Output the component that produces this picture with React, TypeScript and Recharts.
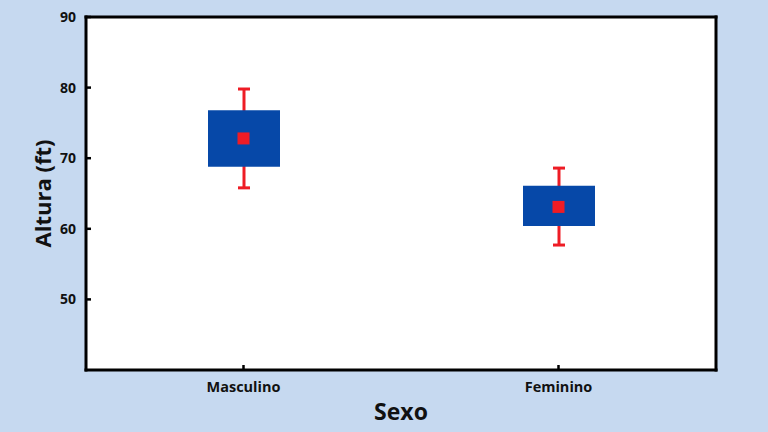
import React from 'react';
import { ComposedChart, Bar, Scatter, XAxis, YAxis, CartesianGrid } from 'recharts';

const categories = ['Masculino', 'Feminino'];
const boxLow = [68.8, 60.4];
const boxHigh = [76.8, 66.1];
const whiskerLow = [65.8, 57.7];
const whiskerHigh = [79.8, 68.6];
const means = [72.8, 63.1];
const yTicks = [50, 60, 70, 80, 90];

const data = categories.map((c, i) => ({
  cat: c,
  box: [boxLow[i], boxHigh[i]],
  whisker: [whiskerLow[i], whiskerHigh[i]],
  mean: means[i],
}));

const BLUE = '#0648a8';
const RED = '#ee1c25';
const BG = '#c6d9f0';
const FONT = '"Open Sans", sans-serif';

const WhiskerShape = (props: any) => {
  const { x, y, width, height } = props;
  const cx = x + width / 2;
  const top = Math.min(y, y + height);
  const bot = Math.max(y, y + height);
  return (
    <g>
      <line x1={cx} x2={cx} y1={top} y2={bot} stroke={RED} strokeWidth={3} />
      <line x1={cx - 6} x2={cx + 6} y1={top} y2={top} stroke={RED} strokeWidth={3} />
      <line x1={cx - 6} x2={cx + 6} y1={bot} y2={bot} stroke={RED} strokeWidth={3} />
    </g>
  );
};

const MeanShape = (props: any) => {
  const { cx, cy } = props;
  return <rect x={cx - 6} y={cy - 6} width={12} height={12} fill={RED} />;
};

const YTick = (props: any) => {
  const { y, payload } = props;
  return (
    <g>
      <line x1={86} x2={91} y1={y} y2={y} stroke="#000" strokeWidth={2.5} />
      <text x={76} y={y} dy="0.355em" textAnchor="end" fontFamily={FONT} fontWeight={700} fontSize={14} fill="#111">
        {payload.value}
      </text>
    </g>
  );
};

const XTick = (props: any) => {
  const { x, payload } = props;
  return (
    <g>
      <line x1={x} x2={x} y1={370} y2={365} stroke="#000" strokeWidth={2.5} />
      <text x={x} y={392} textAnchor="middle" fontFamily={FONT} fontWeight={700} fontSize={14.5} fill="#111">
        {payload.value}
      </text>
    </g>
  );
};

const axisLine = { stroke: '#000', strokeWidth: 3, strokeLinecap: 'square' as const };

export default function App() {
  return (
    <div style={{ position: 'absolute', left: 0, top: 0, width: 768, height: 432, background: BG }}>
      <ComposedChart
        width={768}
        height={432}
        data={data}
        margin={{ top: 16, right: 51, bottom: 0, left: 0 }}
      >
        <CartesianGrid fill="#ffffff" horizontal={false} vertical={false} />
        <XAxis
          xAxisId="top"
          orientation="top"
          dataKey="cat"
          height={1}
          tick={false}
          tickLine={false}
          axisLine={axisLine}
        />
        <XAxis
          xAxisId="bottom"
          dataKey="cat"
          height={62}
          tickLine={false}
          tickSize={0}
          tickMargin={0}
          axisLine={axisLine}
          tick={<XTick />}
          interval={0}
          label={{
            value: 'Sexo',
            position: 'insideBottom',
            offset: 12,
            style: { fontFamily: FONT, fontWeight: 700, fontSize: 23, fill: '#111' },
          }}
        />
        <YAxis
          yAxisId="left"
          domain={[40, 90]}
          ticks={yTicks}
          width={86}
          tickLine={false}
          tickSize={0}
          tickMargin={0}
          axisLine={axisLine}
          tick={<YTick />}
          label={{
            value: 'Altura (ft)',
            angle: -90,
            position: 'center',
            style: { fontFamily: FONT, fontWeight: 700, fontSize: 22, fill: '#111', textAnchor: 'middle' },
          }}
        />
        <YAxis
          yAxisId="right"
          orientation="right"
          domain={[40, 90]}
          width={1}
          tick={false}
          tickLine={false}
          axisLine={axisLine}
        />
        <Bar
          xAxisId="top"
          yAxisId="left"
          dataKey="whisker"
          barSize={72}
          shape={<WhiskerShape />}
          isAnimationActive={false}
        />
        <Bar
          xAxisId="bottom"
          yAxisId="left"
          dataKey="box"
          barSize={72}
          fill={BLUE}
          isAnimationActive={false}
        />
        <Scatter
          xAxisId="bottom"
          yAxisId="right"
          dataKey="mean"
          shape={<MeanShape />}
          isAnimationActive={false}
        />
      </ComposedChart>
    </div>
  );
}
